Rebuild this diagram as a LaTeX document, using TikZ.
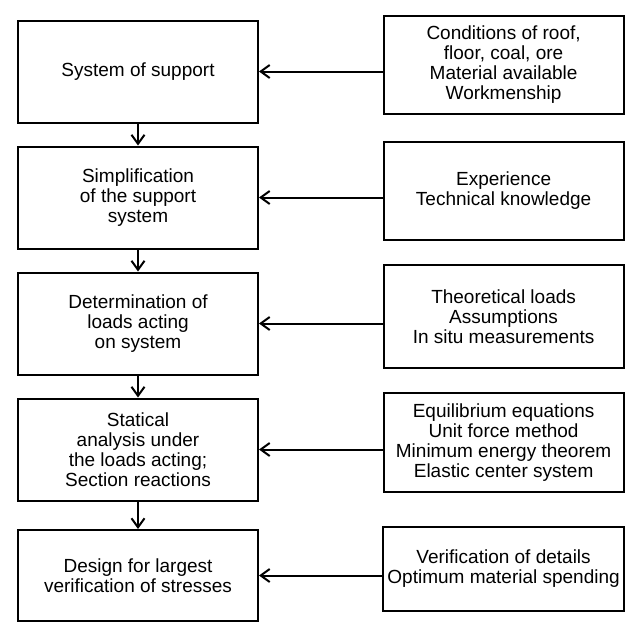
\documentclass[tikz,border=0pt]{standalone}
\usepackage{fontspec}
\setmainfont{Liberation Sans}
\usetikzlibrary{arrows.meta}

\begin{document}
\begin{tikzpicture}[>={Straight Barb[length=4.5pt,width=6.5pt]},line width=1pt,node distance=63pt,
  every node/.style={draw,rectangle,align=center,inner sep=2pt,minimum width=120pt,font=\fontsize{9.5}{10}\selectfont},
  task/.style={minimum height=51pt},
  input/.style={minimum height=49pt,node distance=182.8pt,yshift=3.5pt}]
\useasboundingbox (0,0) rectangle (316pt,-311.5pt);
\node 	(L1) [task] at (69pt,-35.75pt)	{System of support};
 \node 	(L2) [task, below of=L1]  	{Simplification\\of the support\\system};
 \node 	(L3) [task, below of=L2]  	{Determination of\\loads acting\\on system};
 \node 	(L4) [task, below of=L3]  	{Statical\\analysis under\\the loads acting;\\Section reactions};
 \node 	(L5) [task, minimum height=45.5pt, below of=L4]  	{Design for largest\\verification of stresses};

  \node  	(R1) [input, right of=L1]  	{Conditions of roof,\\floor, coal, ore\\Material available\\Workmenship};
  \node  	(R2) [input, right of=L2]  	{Experience\\Technical knowledge};
  \node  	(R3) [input, minimum height=51.5pt, right of=L3]  	{Theoretical loads\\Assumptions\\In situ measurements};
  \node  	(R4) [input, minimum height=49.5pt, right of=L4]  	{Equilibrium equations\\Unit force method\\Minimum energy theorem\\Elastic center system};
  \node  	(R5) [input, minimum height=42pt, right of=L5]  	{Verification of details\\Optimum material spending};

	\path[->] (L1)  edge  	 	(L2)
	          (L2)  edge  	 	(L3)
	          (L3)  edge  	 	(L4)
	          (L4)  edge  	 	(L5);
	\path[->] (R1.west |- L1) edge (L1)
	          (R2.west |- L2) edge (L2)
	          (R3.west |- L3) edge (L3)
	          (R4.west |- L4) edge (L4)
	          (R5.west |- L5) edge (L5);
\end{tikzpicture}
\end{document}
